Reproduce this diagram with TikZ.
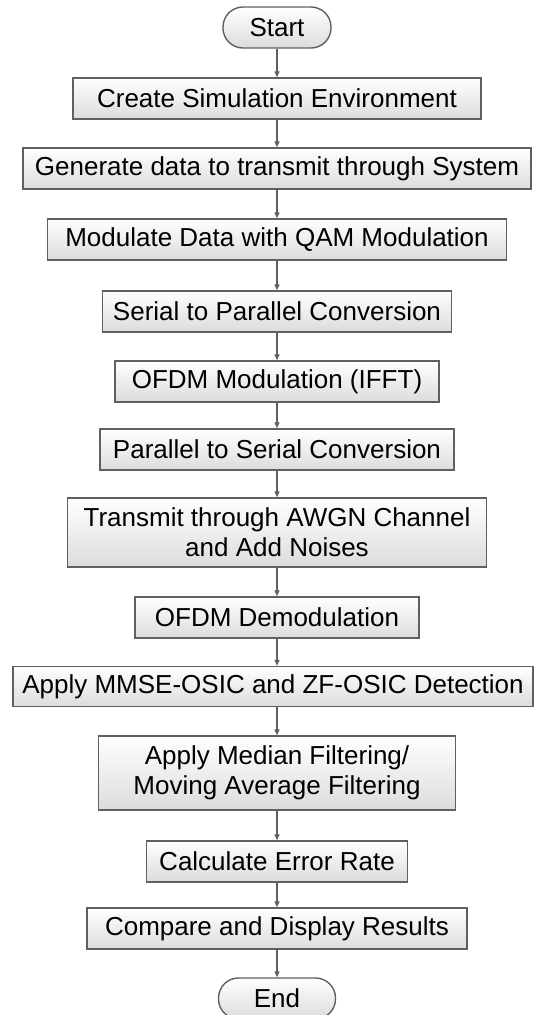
\documentclass[tikz,border=0pt]{standalone}
\usepackage{fontspec}
\setmainfont{Liberation Sans}
\usepackage{tikz}
\usetikzlibrary{
	arrows.meta,
	positioning
}
\definecolor{EdgeGray}{RGB}{96,96,96}
\definecolor{FillGray}{RGB}{220,220,220}

\begin{document}
\begin{tikzpicture}[x=1bp, y=-1bp,
		process/.style={draw=EdgeGray, line width=1.4bp, top color=white, bottom color=FillGray,
			minimum height=41bp, inner sep=0pt, align=center,
			font=\fontsize{26bp}{30bp}\selectfont},
		terminal/.style={process, rounded corners=20bp},
		flow/.style={draw=EdgeGray, line width=1.3bp, -{Triangle[length=6bp, width=5bp]}}]
		\useasboundingbox (0,0) rectangle (536,1015);
		% start and steps, top to bottom
		\node[terminal, minimum width=108bp] (start) at (277,27.5) {Start};
		\node[process, minimum width=408bp] (create) at (277,98.5) {Create Simulation Environment};
		\node[process, minimum width=508bp] (generate) at (277,168.5) {Generate data to transmit through System};
		\node[process, minimum width=459bp] (qam) at (277,239.5) {Modulate Data with QAM Modulation};
		\node[process, minimum width=349bp] (sp) at (277,311.5) {Serial to Parallel Conversion};
		\node[process, minimum width=324bp] (ifft) at (277,381.5) {OFDM Modulation (IFFT)};
		\node[process, minimum width=354bp] (ps) at (277,449.5) {Parallel to Serial Conversion};
		\node[process, minimum width=419bp, minimum height=69bp] (awgn) at (277,532.5) {Transmit through AWGN Channel\\and Add Noises};
		\node[process, minimum width=284bp] (demod) at (277,617.5) {OFDM Demodulation};
		\node[process, minimum width=520bp, minimum height=40bp] (detect) at (273,686.5) {Apply MMSE-OSIC and ZF-OSIC Detection};
		\node[process, minimum width=357bp, minimum height=74bp] (filter) at (277,773) {Apply Median Filtering/\\Moving Average Filtering};
		\node[process, minimum width=261bp] (error) at (277,861.5) {Calculate Error Rate};
		\node[process, minimum width=380bp] (compare) at (277,928.5) {Compare and Display Results};
		\node[terminal, minimum width=117bp] (end) at (277,998.5) {End};
		% connectors, all on the start axis
		\foreach \a/\b in {start/create, create/generate, generate/qam, qam/sp, sp/ifft, ifft/ps,
			ps/awgn, awgn/demod, demod/detect, detect/filter, filter/error, error/compare, compare/end}
		\draw[flow] (\a.south -| start) -- (\b.north -| start);
	\end{tikzpicture}
\end{document}
